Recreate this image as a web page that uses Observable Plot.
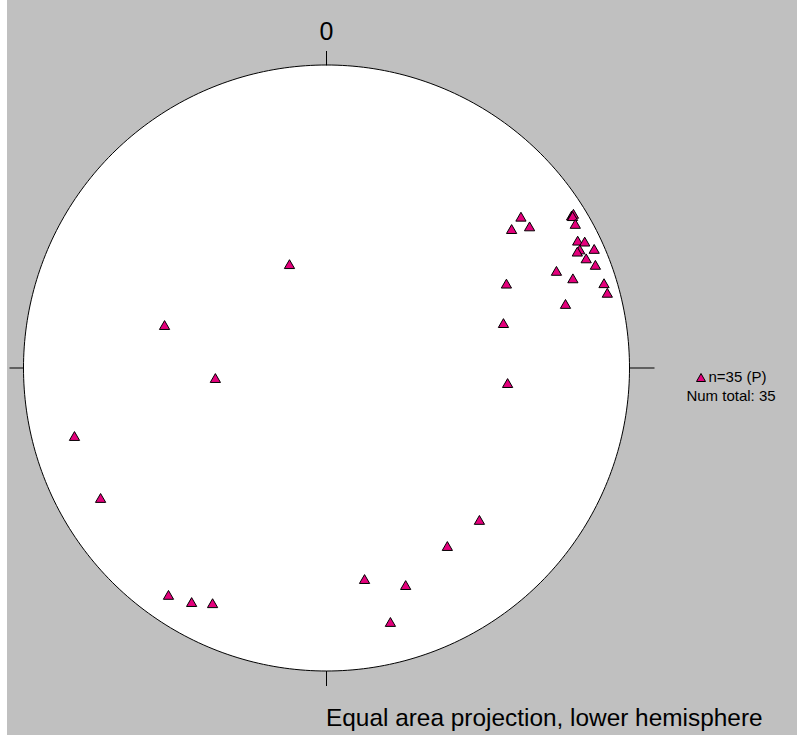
<!DOCTYPE html>
<html><head><meta charset="utf-8">
<script src="https://cdn.jsdelivr.net/npm/d3@7"></script>
<script src="https://cdn.jsdelivr.net/npm/@observablehq/plot@0.6"></script>
<style>
html,body{margin:0;padding:0;}
body{width:797px;height:735px;position:relative;overflow:hidden;background:linear-gradient(to right,#fff 0,#fff 7px,#c0c0c0 7px);font-family:"Liberation Sans",Arial,sans-serif;}
#chart{position:absolute;left:0;top:0;}
.lbl{position:absolute;line-height:1;color:#000;white-space:nowrap;}
#legend{position:absolute;left:671px;top:367px;width:120px;text-align:center;font-size:15px;line-height:19px;}
#caption{left:326px;top:705.5px;font-size:24.4px;}
</style></head><body>
<div id="chart"></div>
<div id="legend"><div><svg width="10" height="9" style="vertical-align:0px;margin-right:3px"><polygon points="5,0.5 9.5,8.5 0.5,8.5" fill="#E4007C" stroke="#000" stroke-width="1"/></svg>n=35 (P)</div><div>Num total: 35</div></div>
<div id="caption" class="lbl">Equal area projection, lower hemisphere</div>
<script>
const trend  = [340.3, 284.7, 264.6, 254.8, 240.0, 214.8, 209.9, 205.8, 169.8, 160.0,
                165.9, 145.9, 134.9, 94.9, 75.9, 65.0, 52.2, 53.2, 55.2, 58.2,
                58.1, 58.4, 60.0, 63.2, 64.0, 66.1, 65.0, 65.2, 67.2, 69.1,
                67.2, 70.1, 73.1, 75.1, 75.1];
const plunge = [60.3, 44.0, 59.8, 14.9, 15.0, 9.5, 11.7, 14.7, 29.8, 24.6,
                14.5, 29.6, 29.5, 39.8, 39.6, 34.8, 19.9, 24.7, 19.5, 5.4,
                4.5, 5.2, 5.8, 7.9, 5.8, 3.8, 8.6, 9.7, 7.8, 5.6,
                18.8, 14.6, 4.8, 4.6, 19.5];
const northLabel = ["0"];

const rad = Math.PI / 180;
// Schmidt (equal area) lower hemisphere projection, unit primitive circle
const points = trend.map((t, i) => {
  const r = Math.SQRT2 * Math.sin((90 - plunge[i]) * rad / 2);
  return {x: r * Math.sin(t * rad), y: r * Math.cos(t * rad)};
});
const outline = d3.range(0, 361, 1).map(a => ({x: Math.sin(a * rad), y: Math.cos(a * rad)}));
const R = 303;
const ticks = [{az: 0, len: 14}, {az: 90, len: 25}, {az: 180, len: 15}, {az: 270, len: 14}];

const chart = Plot.plot({
  width: 797,
  height: 735,
  margin: 0,
  style: {background: "transparent", overflow: "visible"},
  x: {domain: [-1, 1], range: [23, 629], axis: null},
  y: {domain: [-1, 1], range: [670.5, 64.5], axis: null},
  marks: [
    Plot.line(outline, {x: "x", y: "y", fill: "white", stroke: "#000", strokeWidth: 1}),
    Plot.link(ticks, {
      x1: d => Math.sin(d.az * rad), y1: d => Math.cos(d.az * rad),
      x2: d => Math.sin(d.az * rad) * (1 + d.len / R), y2: d => Math.cos(d.az * rad) * (1 + d.len / R),
      stroke: "#000", strokeWidth: 1
    }),
    Plot.text(northLabel, {x: () => 0, y: () => 1, text: d => d, dy: -33, fontSize: 25, fill: "#000", fontFamily: "Liberation Sans, Arial, sans-serif"}),
    Plot.dot(points, {x: "x", y: "y", symbol: "triangle", r: 3.8, dy: 1, fill: "#E4007C", stroke: "#000", strokeWidth: 1})
  ]
});
document.getElementById("chart").appendChild(chart);
</script>
</body></html>
